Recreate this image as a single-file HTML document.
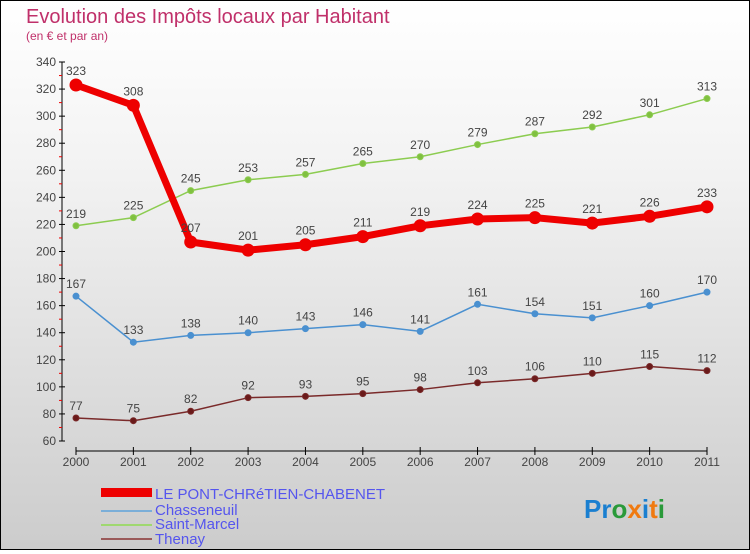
<!DOCTYPE html>
<html><head><meta charset="utf-8"><style>
body{margin:0}
#c{width:748px;height:548px;border:1px solid #000;background:linear-gradient(#fff,#f3f3f3 30%,#ccc);position:relative;font-family:"Liberation Sans",sans-serif}
</style></head><body>
<div id="c">
<svg width="748" height="548" id="s">
<text x="25" y="22" font-size="20" fill="#c0306a">Evolution des Impôts locaux par Habitant</text>
<text x="25" y="39" font-size="12" fill="#c0306a">(en € et par an)</text>
<g id="ax"></g><g id="ser"></g>
<g font-size="15" fill="#5555ee">
<rect x="100" y="487" width="51" height="9" fill="#e00"/>
<text x="154" y="498">LE PONT-CHRéTIEN-CHABENET</text>
<rect x="100" y="509" width="51" height="2" fill="#7aaed8"/>
<text x="154" y="514">Chasseneuil</text>
<rect x="100" y="523" width="51" height="2" fill="#9fd870"/>
<text x="154" y="528">Saint-Marcel</text>
<rect x="100" y="537" width="51" height="2" fill="#9a5a5a"/>
<text x="154" y="543">Thenay</text>
</g>
<text x="583" y="517" font-size="26" font-weight="bold"><tspan fill="#1a7fd0">Pr</tspan><tspan fill="#2a9a3a">o</tspan><tspan fill="#f07a10">x</tspan><tspan fill="#1a7fd0">i</tspan><tspan fill="#f07a10">t</tspan><tspan fill="#2a9a3a">i</tspan></text>
</svg></div>
<script>
const years=["2000","2001","2002","2003","2004","2005","2006","2007","2008","2009","2010","2011"];
const yTicks=[60,80,100,120,140,160,180,200,220,240,260,280,300,320,340];
const pont=[323,308,207,201,205,211,219,224,225,221,226,233];
const chasseneuil=[167,133,138,140,143,146,141,161,154,151,160,170];
const saintMarcel=[219,225,245,253,257,265,270,279,287,292,301,313];
const thenay=[77,75,82,92,93,95,98,103,106,110,115,112];
const NS="http://www.w3.org/2000/svg";
const X=i=>75+i*(631/11), Y=v=>440-(v-60)*(379/280);
function mk(t,a,p){const e=document.createElementNS(NS,t);for(const k in a)e.setAttribute(k,a[k]);p.appendChild(e);return e;}
const ax=document.getElementById('ax');
let l=mk('line',{x1:61,y1:61,x2:61,y2:440,stroke:'#000'},ax);


const yMax=yTicks[yTicks.length-1];
yTicks.forEach(v=>{mk('line',{x1:58,x2:64,y1:Y(v),y2:Y(v),stroke:'#000'},ax);
 if(v<yMax) mk('line',{x1:58,x2:61,y1:Y(v+10),y2:Y(v+10),stroke:'#e00'},ax);
 const t=mk('text',{x:55,y:Y(v)+4,'text-anchor':'end','font-size':12,fill:'#444'},ax);t.textContent=v;
 
 });
l=mk('line',{x1:75,y1:450,x2:706,y2:450,stroke:'#000'},ax);


years.forEach((y,i)=>{mk('line',{x1:X(i),x2:X(i),y1:446,y2:454,stroke:'#000'},ax);
 const t=mk('text',{x:X(i),y:465,'text-anchor':'middle','font-size':12,fill:'#444'},ax);t.textContent=y;
 
 });
const ser=document.getElementById('ser');
function draw(d,col,dot,w,r,name){const g=mk('g',{},ser);
 
 
 mk('polyline',{points:d.map((v,i)=>X(i)+','+Y(v)).join(' '),fill:'none',stroke:col,'stroke-width':w},g);
 d.forEach((v,i)=>{const c=mk('circle',{cx:X(i),cy:Y(v),r:r,fill:dot,stroke:col,'stroke-width':1},g);
  
  
  const t=mk('text',{x:X(i),y:Y(v)-8-(r>4?2:0),'text-anchor':'middle','font-size':12,fill:'#444'},g);t.textContent=v;
  
  });}
draw(thenay,'#7a2a2a','#6a1a1a',1.5,3,'thenay');
draw(chasseneuil,'#4a90d0','#4a90d0',1.5,3,'chasseneuil');
draw(saintMarcel,'#8ccc50','#80c040',1.5,3,'saint-marcel');
draw(pont,'#e00','#e00',7,6,'pont');
</script>
</body></html>
